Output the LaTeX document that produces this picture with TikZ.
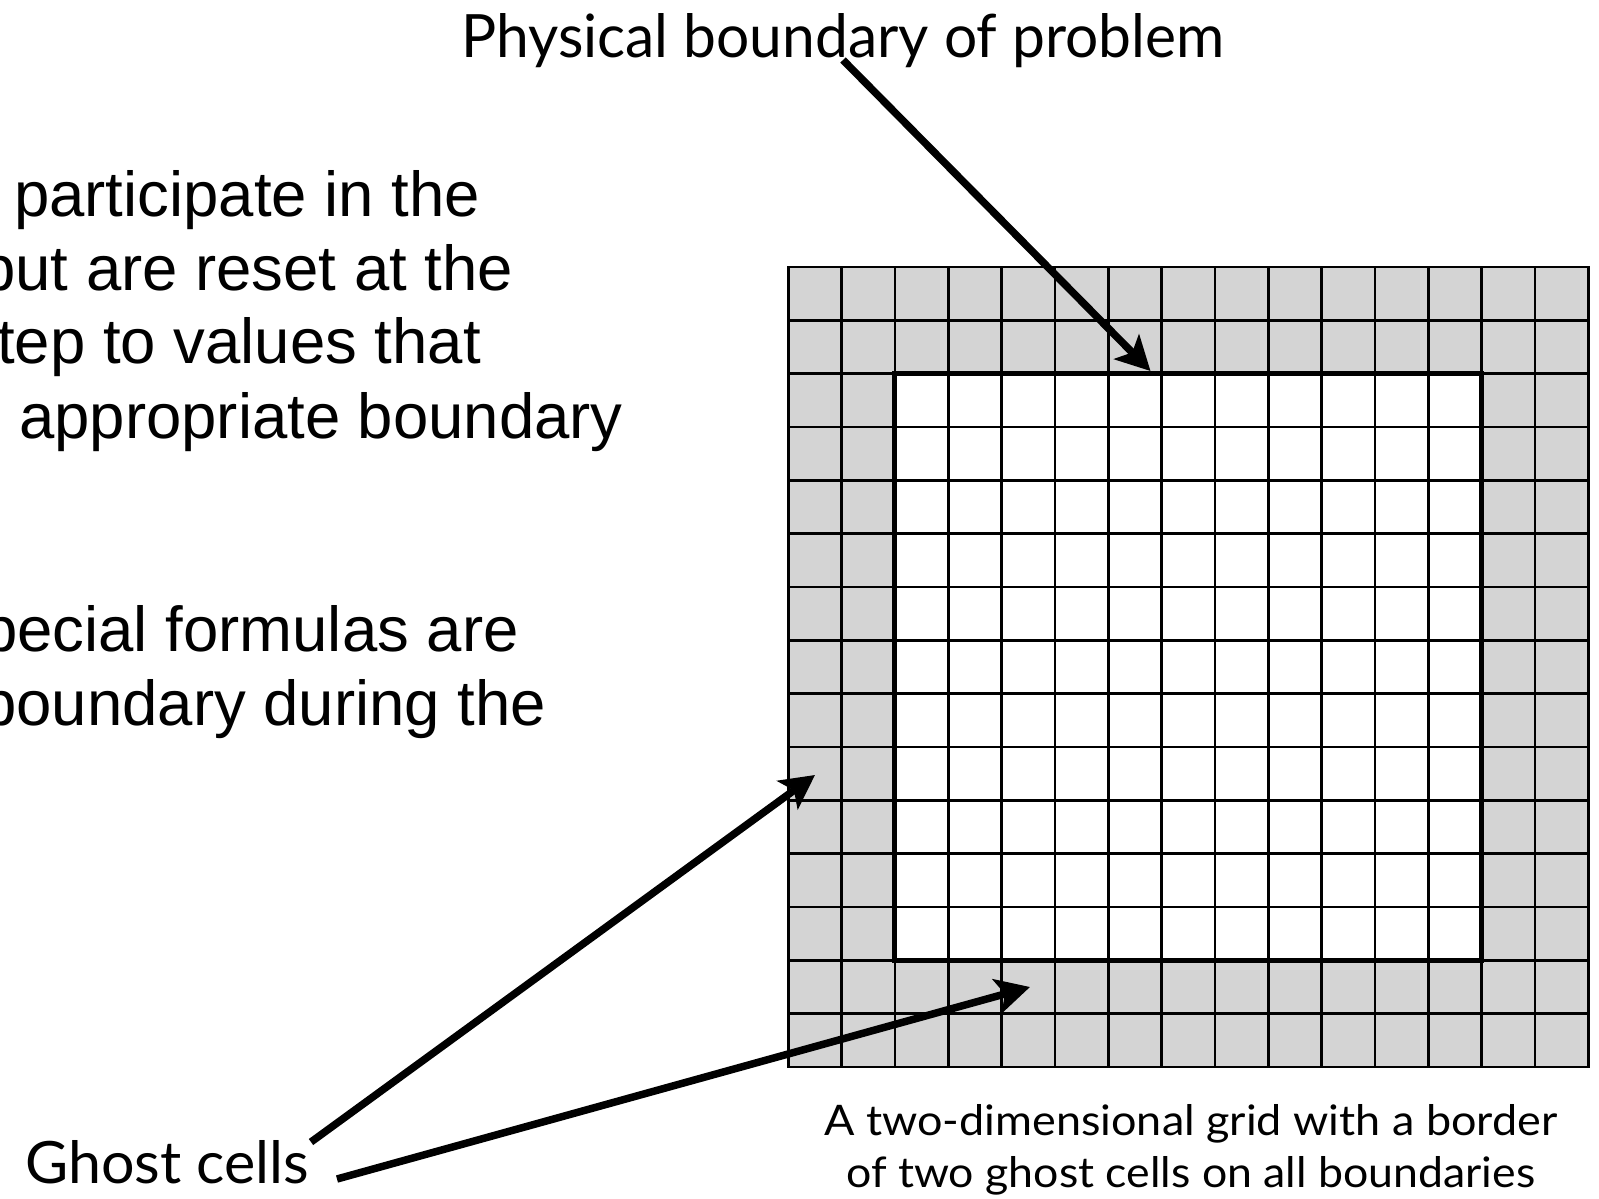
\documentclass[tikz,border=0pt]{standalone}
\usepackage{fontspec}
\usepackage{graphicx}
\usetikzlibrary{arrows.meta}
\newfontfamily\arialf{Liberation Sans}
\newfontfamily\gillf{Lato}
\definecolor{ghostgray}{RGB}{212,212,212}
\begin{document}
\begin{tikzpicture}[x=1pt,y=-1pt,
  bodytext/.style={anchor=base west,inner sep=0pt,font=\arialf\fontsize{63.5}{74}\selectfont},
  lbltext/.style={anchor=base west,inner sep=0pt,font=\gillf},
  gridline/.style={line width=2.4pt,black},
  boundline/.style={line width=5pt,black},
  bigarrow/.style={line width=7.5pt,-{Stealth[length=34pt,width=35pt,inset=8pt]}}]
\useasboundingbox[fill=white] (0,0) rectangle (1599,1199);

% left body text (cut at the left edge)
\begin{scope}
\clip (0,0) rectangle (1599,1199);
\node[bodytext] (t1) at (14,216.7) {participate in the};
\node[bodytext] (t2) at (-20,290) {but are reset at the};
\node[bodytext] (t3) at (-3,363.3) {tep to values that};
\node[bodytext] (t4) at (19,438.3) {appropriate boundary};
\node[bodytext] (t5) at (-18,651) {pecial formulas are};
\node[bodytext] (t6) at (-19,725) {boundary during the};
\end{scope}

% grid
\fill[ghostgray] (788.3,267) rectangle (1588.3,1067);
\fill[white] (894.97,373.67) rectangle (1481.63,960.33);
\foreach \i in {1,...,14} {
  \draw[gridline] ({788.3+\i*53.3333},267) -- ({788.3+\i*53.3333},1067);
  \draw[gridline] (788.3,{267+\i*53.3333}) -- (1588.3,{267+\i*53.3333});
}
\draw[gridline] (788.3,267) rectangle (1588.3,1067);
\draw[boundline] (894.97,373.67) rectangle (1481.63,960.33);

% labels
\node[lbltext] (phys) at (461,57) {\resizebox{763pt}{44pt}{Physical boundary of problem}};
\node[lbltext] (ghost) at (25,1183) {\resizebox{284pt}{43pt}{Ghost cells}};
\node[lbltext] (cap1) at (824,1135) {\resizebox{733pt}{31pt}{A two-dimensional grid with a border}};
\node[lbltext] (cap2) at (846,1187) {\resizebox{689pt}{31pt}{of two ghost cells on all boundaries}};

% arrow ends
\coordinate (physTail) at (843,60);
\coordinate (physTip) at (1150.5,371);
\coordinate (ghostTailA) at (311,1142);
\coordinate (ghostTipA) at (815,775);
\coordinate (ghostTailB) at (337,1179);
\coordinate (ghostTipB) at (1030,987);

\draw[bigarrow] (physTail) -- (physTip);
\draw[bigarrow] (ghostTailA) -- (ghostTipA);
\draw[bigarrow] (ghostTailB) -- (ghostTipB);
\end{tikzpicture}
\end{document}
